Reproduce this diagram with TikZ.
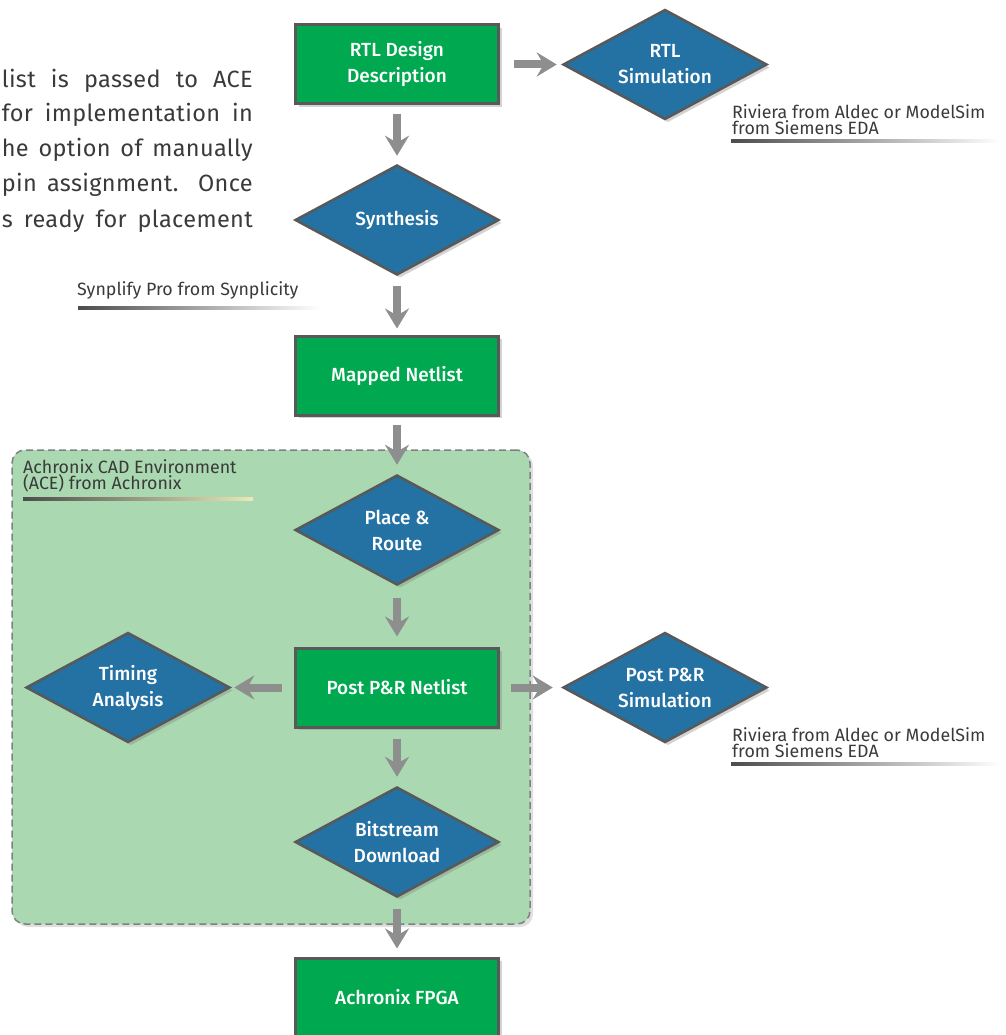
\documentclass[tikz,border=0pt]{standalone}
\usepackage{fontspec}
\setmainfont{Fira Sans}
\newfontfamily\lblfont{Fira Sans Medium}
\newfontfamily\parafont{Fira Sans}[LetterSpace=1.5]
\usetikzlibrary{shapes.geometric,arrows.meta,shadows}
\definecolor{boxgreen}{HTML}{00A84F}
\definecolor{diablue}{HTML}{2471A3}
\definecolor{edgegray}{HTML}{595959}
\definecolor{regiongreen}{HTML}{A9D8B1}
\definecolor{arrowgray}{HTML}{8E8E8E}
\definecolor{txtgray}{HTML}{3A3A3A}
\definecolor{paletan}{HTML}{E8E8B8}
\tikzset{
  procbox/.style={draw=edgegray, line width=3pt, fill=boxgreen, minimum width=203pt, minimum height=79pt,
    inner sep=0pt, text=white, align=center, font=\lblfont\fontsize{19}{26}\selectfont,
    drop shadow={opacity=0.35, shadow xshift=3pt, shadow yshift=-3pt}},
  decision/.style={diamond, draw=edgegray, line width=2.5pt, fill=diablue, minimum width=204pt, minimum height=110pt,
    inner sep=0pt, aspect=1.85, text=white, align=center, font=\lblfont\fontsize{19}{26}\selectfont,
    drop shadow={opacity=0.35, shadow xshift=3pt, shadow yshift=-3pt}},
  flow/.style={draw=arrowgray, line width=8pt, -{Stealth[length=20pt, width=24pt, inset=7pt]}},
  note/.style={anchor=north west, inner sep=0pt, text=txtgray, align=left, font=\fontsize{17.8}{16.5}\selectfont},
  para/.style={anchor=base east, inner sep=0pt, text=txtgray, font=\parafont\fontsize{23.5}{30}\selectfont},
  region/.style={draw=gray, fill=regiongreen, line width=1.5pt, dash pattern=on 7pt off 4pt, rounded corners=13pt,
    minimum width=518pt, minimum height=474pt, inner sep=0pt,
    drop shadow={opacity=0.25, shadow xshift=3pt, shadow yshift=-3pt}},
}
\newcommand{\jline}[1]{\makebox[251pt][s]{#1}}
\begin{document}
\begin{tikzpicture}[x=1pt, y=-1pt]
\useasboundingbox (0,0) rectangle (1005,1035);
\clip (0,0) rectangle (1005,1035);

% paragraph fragment
\node[para] (p1) at (253,88) {\jline{list is passed to ACE}};
\node[para] (p2) at (253,122) {\jline{for implementation in}};
\node[para] (p3) at (253,157) {\jline{he option of manually}};
\node[para] (p4) at (253,192) {\jline{pin assignment. Once}};
\node[para] (p5) at (253,227) {\jline{s ready for placement}};

% ACE region
\node[region] (ace) at (271,687) {};

% nodes
\node[procbox] (rtl) at (397,64.5) {RTL Design\\Description};
\node[decision] (rtlsim) at (665,64.5) {RTL\\Simulation};
\node[decision] (synth) at (397,220) {Synthesis};
\node[procbox] (mapped) at (397,375.5) {Mapped Netlist};
\node[decision] (place) at (397,530) {Place \&\\Route};
\node[procbox] (post) at (397,687.5) {Post P\&R Netlist};
\node[decision] (timing) at (128,687.5) {Timing\\Analysis};
\node[decision] (postsim) at (665,687.5) {Post P\&R\\Simulation};
\node[decision] (bit) at (397,842) {Bitstream\\Download};
\node[procbox] (fpga) at (397,997.5) {Achronix FPGA};

% notes
\node[note] (n1) at (732,104) {Riviera from Aldec or ModelSim\\from Siemens EDA};
\shade[left color=black!70, right color=white] (731,140) rectangle (1000,143);
\node[note] (n2) at (77,281) {Synplify Pro from Synplicity};
\shade[left color=black!70, right color=white] (78,306.5) rectangle (320,309);
\node[note] (n3) at (23,459) {Achronix CAD Environment\\(ACE) from Achronix};
\shade[left color=black!70, right color=paletan] (23,497) rectangle (253,500);
\node[note] (n4) at (732,727) {Riviera from Aldec or ModelSim\\from Siemens EDA};
\shade[left color=black!70, right color=white] (731,762.5) rectangle (1000,765);

% connectors
\draw[flow, shorten <=9pt, shorten >=8pt] (rtl) -- (synth);
\draw[flow, shorten <=14pt, shorten >=5pt] (rtl) -- (rtlsim);
\draw[flow, shorten <=10pt, shorten >=6pt] (synth) -- (mapped);
\draw[flow, shorten <=8pt, shorten >=9pt] (mapped) -- (place);
\draw[flow, shorten <=12pt, shorten >=10pt] (place) -- (post);
\draw[flow, shorten <=12pt, shorten >=3pt] (post) -- (timing);
\draw[flow, shorten <=11pt, shorten >=9pt] (post) -- (postsim);
\draw[flow, shorten <=10pt, shorten >=9pt] (post) -- (bit);
\draw[flow, shorten <=11pt, shorten >=8pt] (bit) -- (fpga);
\end{tikzpicture}
\end{document}
